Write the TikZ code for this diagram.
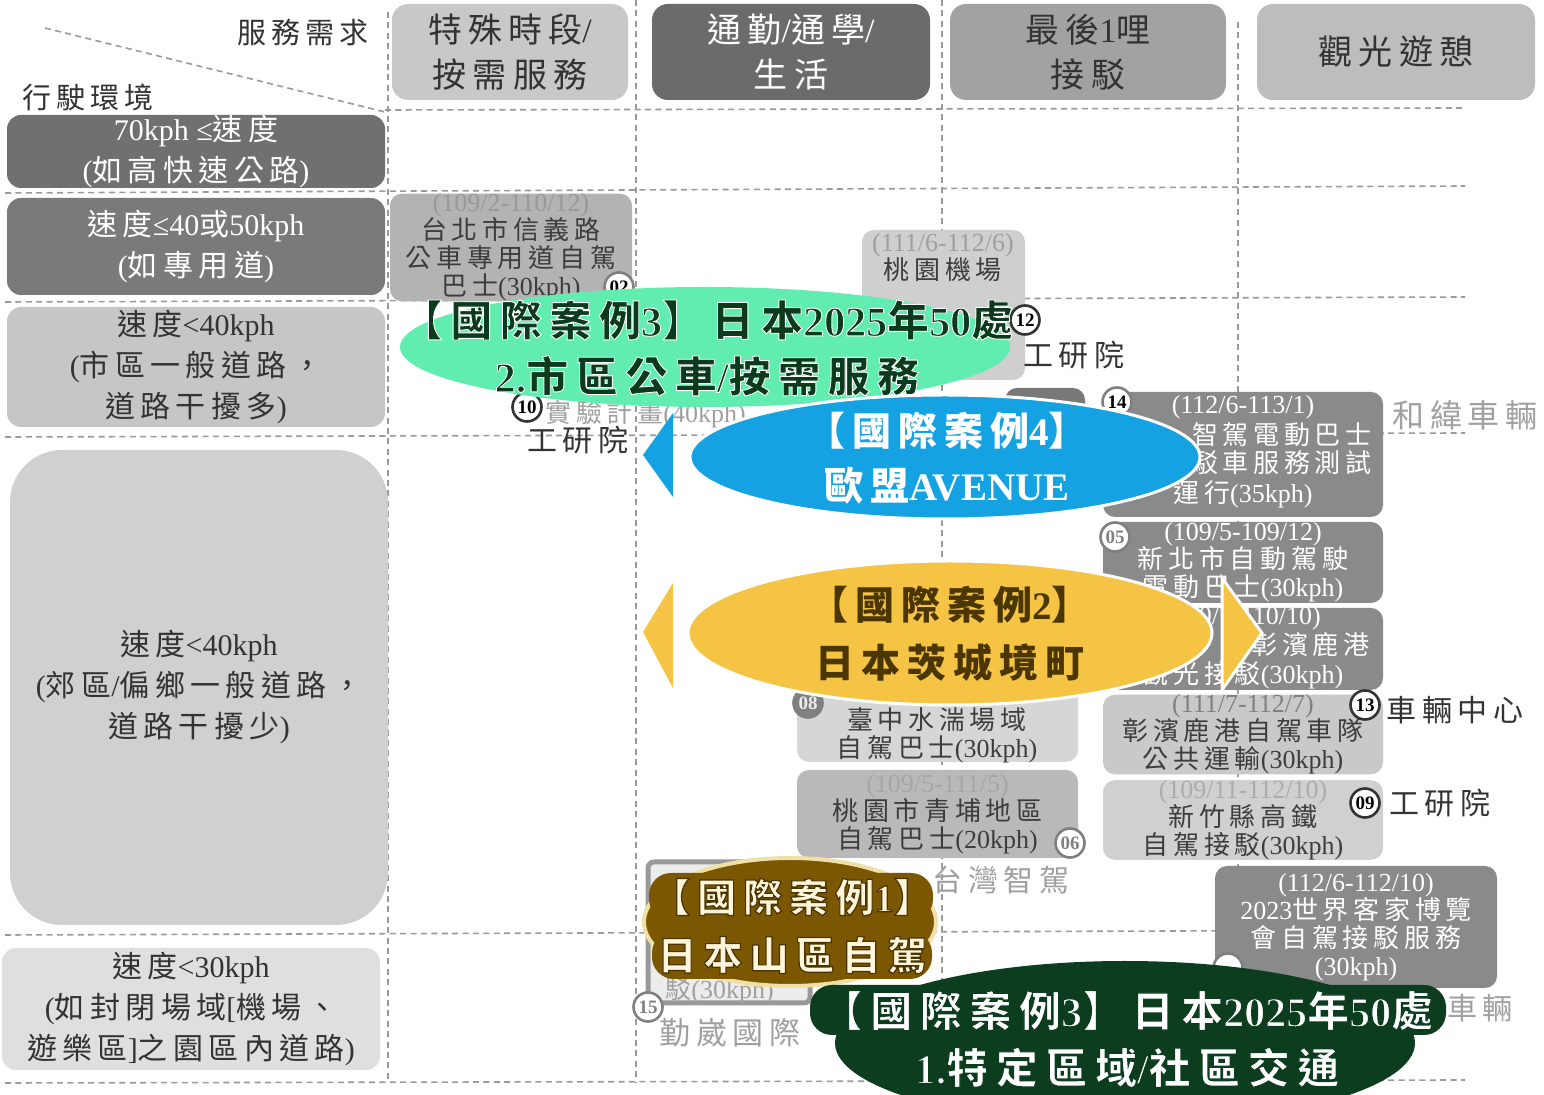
\documentclass[tikz,border=0pt]{standalone}
\usepackage{fontspec}
\setmainfont{Liberation Serif}
\newfontfamily\cjkfont{Noto Sans CJK TC}
\usetikzlibrary{shapes.geometric}
\XeTeXinterchartokenstate=1
\newXeTeXintercharclass\CJKcls
\makeatletter
\count@="3000
\loop\XeTeXcharclass\count@=\CJKcls\advance\count@ by 1 \ifnum\count@<"3040 \repeat
\count@="4E00
\loop\XeTeXcharclass\count@=\CJKcls\advance\count@ by 1 \ifnum\count@<"A000 \repeat
\count@="FF00
\loop\XeTeXcharclass\count@=\CJKcls\advance\count@ by 1 \ifnum\count@<"FF61 \repeat
\makeatother
\XeTeXinterchartoks 0 \CJKcls = {\cjkfont}
\XeTeXinterchartoks 4095 \CJKcls = {\cjkfont}
\XeTeXinterchartoks \CJKcls 0 = {\rmfamily}
\XeTeXinterchartoks 4095 0 = {\rmfamily}
\XeTeXinterchartoks \CJKcls \CJKcls = {\hskip 0.18em\relax}

% outlined text: stroke width (bp), stroke colour (r g b)
\newcommand\outl[2]{\special{pdf:literal direct 2 Tr #1 w #2 RG}}
\newcommand\outoff{\special{pdf:literal direct 0 Tr}}

\definecolor{gridc}{HTML}{9A9A9A}
\definecolor{txt}{HTML}{333333}
\definecolor{hA}{HTML}{C8C8C8}
\definecolor{hB}{HTML}{6B6B6B}
\definecolor{hC}{HTML}{A2A2A2}
\definecolor{hD}{HTML}{BDBDBD}
\definecolor{lA}{HTML}{707070}
\definecolor{lB}{HTML}{7A7A7A}
\definecolor{lC}{HTML}{C6C6C6}
\definecolor{lD}{HTML}{D0D0D0}
\definecolor{lE}{HTML}{DFDFDF}
\definecolor{mint}{HTML}{62EDB0}
\definecolor{mintTxt}{HTML}{0B3A1C}
\definecolor{skyb}{HTML}{14A2E2}
\definecolor{gold}{HTML}{F6C445}
\definecolor{goldTxt}{HTML}{4B3600}
\definecolor{brownC}{HTML}{7A5700}
\definecolor{brownEdge}{HTML}{EFE0A6}
\definecolor{brownTxt}{HTML}{FFF6DC}
\definecolor{forest}{HTML}{0C3D1F}
\definecolor{lblc}{HTML}{A0A0A0}
\definecolor{darkbox}{HTML}{8A8A8A}
\definecolor{boxtxt}{HTML}{3D3D3D}

\begin{document}
\begin{tikzpicture}[x=0.5pt,y=-0.5pt,
  grid/.style={draw=gridc, line width=0.8pt, dash pattern=on 3pt off 2.2pt},
  hdr/.style={rounded corners=8pt, inner sep=0pt, align=center, minimum width=138pt, minimum height=48pt, font=\fontsize{17}{22.5}\selectfont},
  lft/.style={rounded corners=7pt, inner sep=0pt, align=center, minimum width=189pt, font=\fontsize{15}{20.5}\selectfont},
  cbox/.style={rounded corners=6pt, inner sep=0pt, align=center, font=\fontsize{13}{14}\selectfont},
  ctxt/.style={inner sep=0pt, align=center, font=\fontsize{13}{14}\selectfont},
  badge/.style={circle, draw=#1, line width=1.3pt, fill=white, inner sep=0pt, minimum size=14.5pt, font=\bfseries\fontsize{9.5}{10}\selectfont},
  badge/.default=txt,
  lbl/.style={inner sep=0pt, font=\fontsize{15}{16}\selectfont},
  big/.style={inner sep=0pt, align=center, font=\bfseries\fontsize{19.5}{29}\selectfont},
  bigG/.style={big, font=\bfseries\fontsize{21}{28}\selectfont},
  bigD/.style={big, font=\bfseries\fontsize{21}{28.5}\selectfont},
  blob/.style={ellipse, inner sep=0pt},
  band/.style={rounded corners=11pt, inner sep=0pt},
]
\useasboundingbox (0,0) rectangle (1544,1095);
\fill[white] (0,0) rectangle (1544,1095);

% ---------- grid ----------
\draw[grid] (385,110) -- (1465,108);
\draw[grid] (5,193) -- (1465,186);
\draw[grid] (5,302) -- (1465,297);
\draw[grid] (5,437) -- (1465,433);
\draw[grid] (5,935) -- (1465,930);
\draw[grid] (5,1083) -- (1465,1080);
\draw[grid] (388,12) -- (388,1083);
\draw[grid] (636,0) -- (636,1083);
\draw[grid] (942,0) -- (942,1083);
\draw[grid] (1238,22) -- (1238,1083);
\draw[grid] (45,28) -- (385,112);

% ---------- axis labels ----------
\node[lbl, text=txt, font=\fontsize{14.5}{16}\selectfont] (svc) at (303,33) {服務需求};
\node[lbl, text=txt, font=\fontsize{14.5}{16}\selectfont] (env) at (88,97) {行駛環境};

% ---------- headers ----------
\node[hdr, fill=hA, text=txt, minimum width=118pt] (hA) at (510,52) {特殊時段/\\按需服務};
\node[hdr, fill=hB, text=white, minimum width=139pt] (hB) at (791,52) {通勤/通學/\\生活};
\node[hdr, fill=hC, text=txt] (hC) at (1088,52) {最後1哩\\接駁};
\node[hdr, fill=hD, text=txt, minimum width=139pt] (hD) at (1396,52) {觀光遊憩};

% ---------- left rows ----------
\node[lft, fill=lA, text=white, minimum height=36.5pt] (L1) at (196,151.5) {70kph ≤速度\\(如高快速公路)};
\node[lft, fill=lB, text=white, minimum height=48.5pt] (L2) at (196,246.5) {速度≤40或50kph\\(如專用道)};
\node[lft, fill=lC, text=txt, minimum height=60pt] (L3) at (196,367) {速度<40kph\\(市區一般道路，\\道路干擾多)};
\node[lft, fill=lD, text=txt, minimum height=237.5pt, rounded corners=26pt] (L4) at (199,687.5) {速度<40kph\\(郊區/偏鄉一般道路，\\道路干擾少)};
\node[lft, fill=lE, text=txt, minimum height=61pt] (L5) at (191,1009) {速度<30kph\\(如封閉場域[機場、\\遊樂區]之園區內道路)};

% ---------- case boxes ----------
\node[cbox, fill={rgb,255:red,179;green,179;blue,179}, text=boxtxt, minimum width=121pt, minimum height=47.5pt] (c02) at (511,247.5)
  {{\color{gray!80}(109/2-110/12)}\\台北市信義路\\公車專用道自駕\\巴士(30kph)};
\node[badge=gray] (b02) at (619,287) {02};

\node[cbox, fill={rgb,255:red,207;green,207;blue,207}, minimum width=81.5pt, minimum height=75pt] (c12) at (943.5,305) {};
\node[ctxt, text=boxtxt] (c12t) at (943,258) {{\color{gray!75}(111/6-112/6)}\\桃園機場};
\node[badge] (b12) at (1025,320) {12};
\node[lbl, text=txt] (l12) at (1074,355) {工研院};

\node[cbox, fill={rgb,255:red,120;green,120;blue,120}, minimum width=40pt, minimum height=41pt] (c10) at (1045,429) {};
\node[ctxt, text=lblc, anchor=west] (c10t) at (545,414) {實驗計畫(40kph)};
\node[badge] (b10) at (527,407) {10};
\node[lbl, text=txt] (l10) at (578,440) {工研院};

\node[cbox, fill=darkbox, minimum width=140pt, minimum height=62.5pt] (c14) at (1243,454.5) {};
\node[ctxt, text=white] (c14a) at (1243,407) {(112/6-113/1)};
\node[ctxt, text=white, anchor=east] (c14b) at (1372,435) {智駕電動巴士};
\node[ctxt, text=white, anchor=east] (c14c) at (1372,463) {接駁車服務測試};
\node[ctxt, text=white] (c14d) at (1243,494) {運行(35kph)};
\node[badge=gray] (b14) at (1117,402) {14};
\node[lbl, text=lblc, font=\fontsize{16}{17}\selectfont] (l14) at (1465,415) {和緯車輛};

\node[cbox, fill=darkbox, text=white, minimum width=140pt, minimum height=40.5pt] (c05) at (1243,562.5)
  {(109/5-109/12)\\新北市自動駕駛\\電動巴士(30kph)};
\node[badge=gray, text=gray] (b05) at (1115,537) {05};

\node[cbox, fill=darkbox, minimum width=140pt, minimum height=41pt] (cLG) at (1243,649) {};
\node[ctxt, text=white] (cLGa) at (1243,618) {(110/7-110/10)};
\node[ctxt, text=white, anchor=east] (cLGb) at (1370,645) {彰濱鹿港};
\node[ctxt, text=white] (cLGc) at (1243,675) {觀光接駁(30kph)};

\node[cbox, fill={rgb,255:red,201;green,201;blue,201}, text=boxtxt, minimum width=140pt, minimum height=37.5pt] (c13) at (1243,734.5)
  {{\color{gray}(111/7-112/7)}\\彰濱鹿港自駕車隊\\公共運輸(30kph)};
\node[badge] (b13) at (1365,705) {13};
\node[lbl, text=txt] (l13) at (1455,710) {車輛中心};

\node[cbox, fill={rgb,255:red,208;green,208;blue,208}, text=boxtxt, minimum width=140pt, minimum height=38pt] (c09) at (1243,820)
  {{\color{gray!65}(109/11-112/10)}\\新竹縣高鐵\\自駕接駁(30kph)};
\node[badge] (b09) at (1365,803) {09};
\node[lbl, text=txt] (l09) at (1440,803) {工研院};

\node[cbox, fill=darkbox, text=white, minimum width=141pt, minimum height=61pt] (cHK) at (1356,927)
  {(112/6-112/10)\\2023世界客家博覽\\會自駕接駁服務\\(30kph)};
\node[badge=gray] (bHK) at (1228,968) {};
\node[lbl, text=lblc] (lHK) at (1480,1008) {車輛};

\node[cbox, fill={rgb,255:red,214;green,214;blue,214}, minimum width=140.5pt, minimum height=41pt] (c08) at (937.5,721) {};
\node[ctxt, text=boxtxt] (c08t) at (937,735) {臺中水湍場域\\自駕巴士(30kph)};
\node[badge=gray, fill=gray, text=white!85!gray] (b08) at (808,703) {08};

\node[cbox, fill={rgb,255:red,185;green,185;blue,185}, text=boxtxt, minimum width=140.5pt, minimum height=44pt] (c06) at (937.5,814)
  {{\color{gray!70}(109/5-111/5)}\\桃園市青埔地區\\自駕巴士(20kph)};
\node[badge=gray, text=gray] (b06) at (1070,843) {06};
\node[lbl, text=lblc] (l06) at (1001,880) {台灣智駕};

\node[cbox, rounded corners=3pt, fill={rgb,255:red,236;green,236;blue,236}, draw=gray!80, line width=2.5pt, minimum width=81pt, minimum height=70.5pt] (c15) at (729,932.5) {};
\node[ctxt, text=lblc, anchor=west] (c15t) at (665,990) {駁(30kph)};
\node[badge=gray, text=gray] (b15) at (648,1007) {15};
\node[lbl, text=lblc, font=\fontsize{15.5}{17}\selectfont] (l15) at (730,1033) {勤崴國際};

% ---------- international case 3 (urban) ----------
\node[blob, fill=mint, minimum width=305pt, minimum height=60pt] (gE) at (705,347) {};
\node[bigG, text=mintTxt] (gT) at (707,348) {\outl{0.45}{1 1 1}【國際案例3】日本2025年50處\\2.市區公車/按需服務\outoff};

% ---------- international case 4 ----------
\fill[skyb] (643,455) -- (673,413) -- (673,497) -- cycle;
\node[blob, fill=skyb, draw=white, line width=1.5pt, minimum width=255pt, minimum height=62pt] (bE) at (945,457) {};
\node[big, text=white, font=\bfseries\fontsize{19.5}{27.5}\selectfont] (bT) at (947,458) {【國際案例4】\\歐盟AVENUE};

% ---------- international case 2 ----------
\fill[gold] (643,632) -- (673,583) -- (673,688) -- cycle;
\filldraw[fill=gold, draw=white, line width=1.5pt] (1222,578) -- (1262,633) -- (1222,690) -- cycle;
\node[blob, fill=gold, draw=white, line width=1.5pt, minimum width=262pt, minimum height=72pt] (yE) at (950,633) {};
\node[big, text=goldTxt] (yT) at (950,634) {【國際案例2】\\日本茨城境町};

% ---------- international case 1 ----------
\node[blob, fill=brownC, draw=brownEdge, line width=2pt, minimum width=146pt, minimum height=64pt] (brE) at (790,922) {};
\node[band, fill=brownC, minimum width=142pt, minimum height=24pt] (brB1) at (791,897) {};
\node[band, fill=brownC, minimum width=140pt, minimum height=24pt] (brB2) at (792,955) {};
\node[big, text=brownTxt] (brT) at (792,926) {\outl{0.6}{0.29 0.2 0}【國際案例1】\\日本山區自駕\outoff};

% ---------- international case 3 (area) ----------
\node[blob, fill=forest, minimum width=290pt, minimum height=82pt] (dgE) at (1125,1043) {};
\node[band, fill=forest, minimum width=318pt, minimum height=25pt] (dgB) at (1128,1010) {};
\node[bigD, text=white] (dgT) at (1127,1039) {\outl{0.6}{0.047 0.239 0.122}【國際案例3】日本2025年50處\\1.特定區域/社區交通\outoff};
\end{tikzpicture}
\end{document}
